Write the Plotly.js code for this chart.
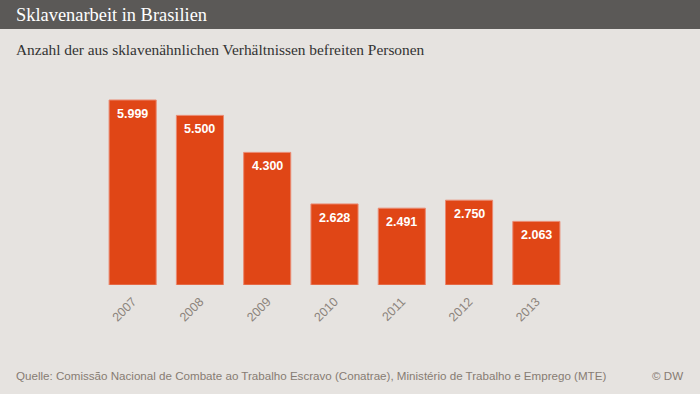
<!DOCTYPE html>
<html><head><meta charset="utf-8">
<script src="https://cdn.plot.ly/plotly-3.0.1.min.js"></script>
<style>html,body{margin:0;padding:0;background:#e6e3e0;}#chart{width:700px;height:394px;}</style>
</head><body><div id="chart"></div>
<script>
const years = ['2007','2008','2009','2010','2011','2012','2013'];
const persons = [5999, 5500, 4300, 2628, 2491, 2750, 2063];
const labels = ['5.999','5.500','4.300','2.628','2.491','2.750','2.063'];

const W = 700, H = 394;
const M = {l: 99, r: 130, t: 90, b: 109};
const pw = W - M.l - M.r, ph = H - M.t - M.b;
const px = x => (x - M.l) / pw;
const py = y => (H - M.b - y) / ph;

const barLabels = years.map((yr, i) => ({
  xref: 'x', yref: 'y', x: i, y: persons[i], yshift: -14, yanchor: 'middle', xanchor: 'center',
  showarrow: false, text: labels[i],
  font: {family: 'Liberation Sans, Arial, sans-serif', size: 12.5, color: '#ffffff', weight: 'bold'}
}));

const layout = {
  width: W, height: H,
  margin: M,
  paper_bgcolor: '#e6e3e0',
  plot_bgcolor: '#e6e3e0',
  showlegend: false,
  bargap: 0.3,
  xaxis: {
    type: 'category', range: [-0.5, 6.5], showgrid: false, zeroline: false, showline: false,
    tickangle: -45, ticks: '', ticklen: 0, ticklabelstandoff: 6,
    tickfont: {family: 'Liberation Sans, Arial, sans-serif', size: 12.5, color: '#8c847c'}
  },
  yaxis: {range: [0, 6323], visible: false, showgrid: false, zeroline: false},
  shapes: [{
    type: 'rect', xref: 'paper', yref: 'paper', layer: 'below',
    x0: px(0), x1: px(W), y0: py(29), y1: py(0),
    fillcolor: '#5b5957', line: {width: 0}
  }],
  annotations: [
    {xref: 'paper', yref: 'paper', x: px(14), y: py(15), xanchor: 'left', yanchor: 'middle', showarrow: false,
     text: 'Sklavenarbeit in Brasilien', font: {family: 'Liberation Serif, Georgia, serif', size: 18.4, color: '#ffffff'}},
    {xref: 'paper', yref: 'paper', x: px(14), y: py(49), xanchor: 'left', yanchor: 'middle', showarrow: false,
     text: 'Anzahl der aus sklavenähnlichen Verhältnissen befreiten Personen', font: {family: 'Liberation Serif, Georgia, serif', size: 15.4, color: '#333333'}},
    {xref: 'paper', yref: 'paper', x: px(14), y: py(375), xanchor: 'left', yanchor: 'middle', showarrow: false,
     text: 'Quelle: Comissão Nacional de Combate ao Trabalho Escravo (Conatrae), Ministério de Trabalho e Emprego (MTE)', font: {family: 'Liberation Sans, Arial, sans-serif', size: 11.6, color: '#867c73'}},
    {xref: 'paper', yref: 'paper', x: px(685), y: py(375), xanchor: 'right', yanchor: 'middle', showarrow: false,
     text: '© DW', font: {family: 'Liberation Sans, Arial, sans-serif', size: 11.6, color: '#867c73'}}
  ].concat(barLabels)
};

const trace = {
  type: 'bar', x: years, y: persons,
  marker: {color: '#e04616', line: {color: '#ea8a72', width: 1}},
  hoverinfo: 'none'
};

Plotly.newPlot('chart', [trace], layout, {staticPlot: true, displayModeBar: false});
</script>
</body></html>
